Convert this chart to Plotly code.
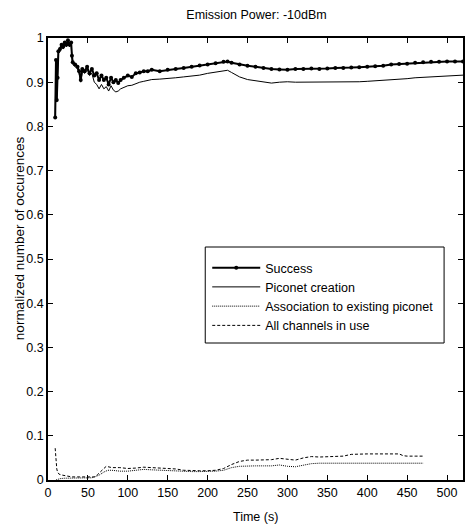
import plotly.graph_objects as go

# ---- data ----
t_top = [9, 10, 11, 12, 13, 15, 17, 19, 21, 23, 25, 27, 29, 30, 31, 34, 37, 39, 41, 43,
         46, 49, 52, 55, 58, 61, 64, 67, 70, 73, 76, 79, 82, 85, 88, 91, 95, 100, 105, 110,
         115, 120, 125, 130, 140, 150, 160, 170, 180, 190, 200, 210, 220, 225, 230, 240, 250, 260, 270, 280,
         290, 300, 310, 320, 330, 340, 350, 360, 370, 380, 390, 400, 410, 420, 430, 440, 450, 460, 470, 480,
         490, 500, 510, 520]

success = [0.82, 0.95, 0.86, 0.91, 0.97, 0.975, 0.985, 0.98, 0.99, 0.985, 0.995, 0.985, 0.99, 0.96, 0.945, 0.94, 0.935, 0.925, 0.905, 0.93,
           0.925, 0.935, 0.92, 0.93, 0.915, 0.92, 0.905, 0.915, 0.905, 0.91, 0.895, 0.91, 0.90, 0.905, 0.898, 0.905, 0.91, 0.915, 0.912, 0.92,
           0.922, 0.925, 0.925, 0.928, 0.925, 0.928, 0.93, 0.932, 0.935, 0.938, 0.94, 0.943, 0.946, 0.947, 0.944, 0.94, 0.937, 0.935, 0.932, 0.93,
           0.929, 0.928, 0.93, 0.93, 0.931, 0.93, 0.931, 0.932, 0.932, 0.933, 0.934, 0.935, 0.936, 0.937, 0.94, 0.941, 0.942, 0.944, 0.945, 0.946,
           0.946, 0.947, 0.947, 0.947]

piconet = [0.82, 0.945, 0.855, 0.905, 0.965, 0.97, 0.98, 0.975, 0.985, 0.98, 0.99, 0.98, 0.985, 0.955, 0.94, 0.935, 0.93, 0.92, 0.90, 0.925,
           0.92, 0.93, 0.915, 0.92, 0.90, 0.895, 0.885, 0.895, 0.885, 0.89, 0.88, 0.892, 0.882, 0.878, 0.88, 0.885, 0.888, 0.892, 0.893, 0.897,
           0.90, 0.902, 0.904, 0.906, 0.907, 0.908, 0.91, 0.912, 0.914, 0.916, 0.92, 0.923, 0.926, 0.927, 0.922, 0.912, 0.906, 0.903, 0.90, 0.898,
           0.90, 0.901, 0.90, 0.90, 0.901, 0.90, 0.90, 0.901, 0.90, 0.90, 0.901, 0.902, 0.903, 0.904, 0.906, 0.907, 0.908, 0.91, 0.911, 0.912,
           0.913, 0.914, 0.915, 0.916]

t_assoc = [10, 15, 20, 30, 40, 50, 55, 60, 65, 70, 75, 80, 90, 100, 110, 120, 130, 140, 150, 160,
           170, 180, 190, 200, 210, 220, 230, 240, 250, 260, 270, 280, 290, 300, 310, 320, 330, 340, 360, 380,
           400, 420, 440, 460, 470]
association = [0.0, 0.003, 0.004, 0.004, 0.004, 0.004, 0.005, 0.008, 0.012, 0.018, 0.022, 0.022, 0.02, 0.02, 0.022, 0.024, 0.023, 0.022, 0.022, 0.021,
               0.019, 0.019, 0.019, 0.019, 0.02, 0.022, 0.028, 0.031, 0.032, 0.032, 0.032, 0.032, 0.034, 0.031, 0.03, 0.033, 0.037, 0.038, 0.038, 0.038,
               0.038, 0.038, 0.038, 0.038, 0.038]

t_busy = [9, 10, 11, 12, 14, 18, 22, 26, 30, 40, 50, 58, 62, 66, 70, 73, 76, 80, 90, 100,
          110, 120, 130, 140, 150, 160, 170, 180, 190, 200, 210, 220, 230, 240, 250, 260, 270, 280, 290, 300,
          310, 320, 330, 340, 350, 360, 370, 380, 390, 400, 410, 420, 430, 440, 445, 450, 460, 470]
all_busy = [0.072, 0.04, 0.025, 0.018, 0.013, 0.011, 0.01, 0.008, 0.007, 0.007, 0.007, 0.007, 0.012, 0.018, 0.026, 0.031, 0.03, 0.028, 0.028, 0.026,
            0.027, 0.029, 0.028, 0.027, 0.026, 0.025, 0.022, 0.021, 0.021, 0.021, 0.022, 0.026, 0.035, 0.042, 0.045, 0.045, 0.045, 0.046, 0.049, 0.047,
            0.045, 0.05, 0.053, 0.052, 0.053, 0.053, 0.054, 0.058, 0.059, 0.059, 0.059, 0.059, 0.059, 0.059, 0.055, 0.054, 0.054, 0.054]

x_ticks = [0, 50, 100, 150, 200, 250, 300, 350, 400, 450, 500]
y_ticks = [0, 0.1, 0.2, 0.3, 0.4, 0.5, 0.6, 0.7, 0.8, 0.9, 1]

FONT = "Liberation Sans, Arial, sans-serif"

# plot area in page pixels
PL, PR, PT, PB = 48, 465, 38, 480
PW, PH = PR - PL, PB - PT


def px_x(x):
    return (x - PL) / PW


def px_y(y):
    return (PB - y) / PH


fig = go.Figure()
fig.add_trace(go.Scatter(x=t_top, y=success, name="Success", mode="lines+markers",
                         line=dict(color="black", width=2),
                         marker=dict(color="black", size=4)))
fig.add_trace(go.Scatter(x=t_top, y=piconet, name="Piconet creation", mode="lines",
                         line=dict(color="black", width=1)))
fig.add_trace(go.Scatter(x=t_assoc, y=association, name="Association to existing piconet", mode="lines",
                         line=dict(color="black", width=1, dash="1px,1px")))
fig.add_trace(go.Scatter(x=t_busy, y=all_busy, name="All channels in use", mode="lines",
                         line=dict(color="black", width=1, dash="3px,2px")))

axis_common = dict(showgrid=False, zeroline=False, showline=True, linecolor="black", linewidth=1.5,
                   mirror="ticks", ticks="inside", ticklen=5, tickcolor="black", tickwidth=1,
                   tickfont=dict(family=FONT, size=12.5, color="black"))

fig.update_layout(
    width=467, height=527,
    margin=dict(l=PL, r=467 - PR, t=PT, b=527 - PB),
    paper_bgcolor="white", plot_bgcolor="white",
    font=dict(family=FONT, size=12, color="black"),
    title=dict(text="Emission Power: -10dBm", x=(PL + PR) / 2 / 467, xanchor="center",
               y=1 - 15 / 527, yanchor="middle", font=dict(family=FONT, size=12.5, color="black")),
    xaxis=dict(range=[0, 520], tickvals=x_ticks, **axis_common),
    yaxis=dict(range=[0, 1], tickvals=y_ticks, **axis_common),
    showlegend=True,
    legend=dict(x=px_x(208), y=px_y(253), xanchor="left", yanchor="top",
                bgcolor="rgba(0,0,0,0)", borderwidth=0, itemwidth=48,
                font=dict(family=FONT, size=12.5, color="black"),
                tracegroupgap=0),
    shapes=[
        dict(type="rect", xref="paper", yref="paper",
             x0=px_x(206), x1=px_x(446), y0=px_y(343), y1=px_y(247),
             line=dict(color="black", width=1), fillcolor="white", layer="below"),
    ],
    annotations=[
        dict(text="normalized number of occurences", textangle=-90, xref="paper", yref="paper",
             x=px_x(20), y=px_y(238), xanchor="center", yanchor="middle", showarrow=False,
             font=dict(family=FONT, size=13.5, color="black")),
        dict(text="Time (s)", xref="paper", yref="paper",
             x=px_x(257), y=px_y(517), xanchor="center", yanchor="middle", showarrow=False,
             font=dict(family=FONT, size=12.5, color="black")),
    ],
)

fig.write_html("out.html", config={"displayModeBar": False},
               post_script="document.body.style.margin='0px';")
